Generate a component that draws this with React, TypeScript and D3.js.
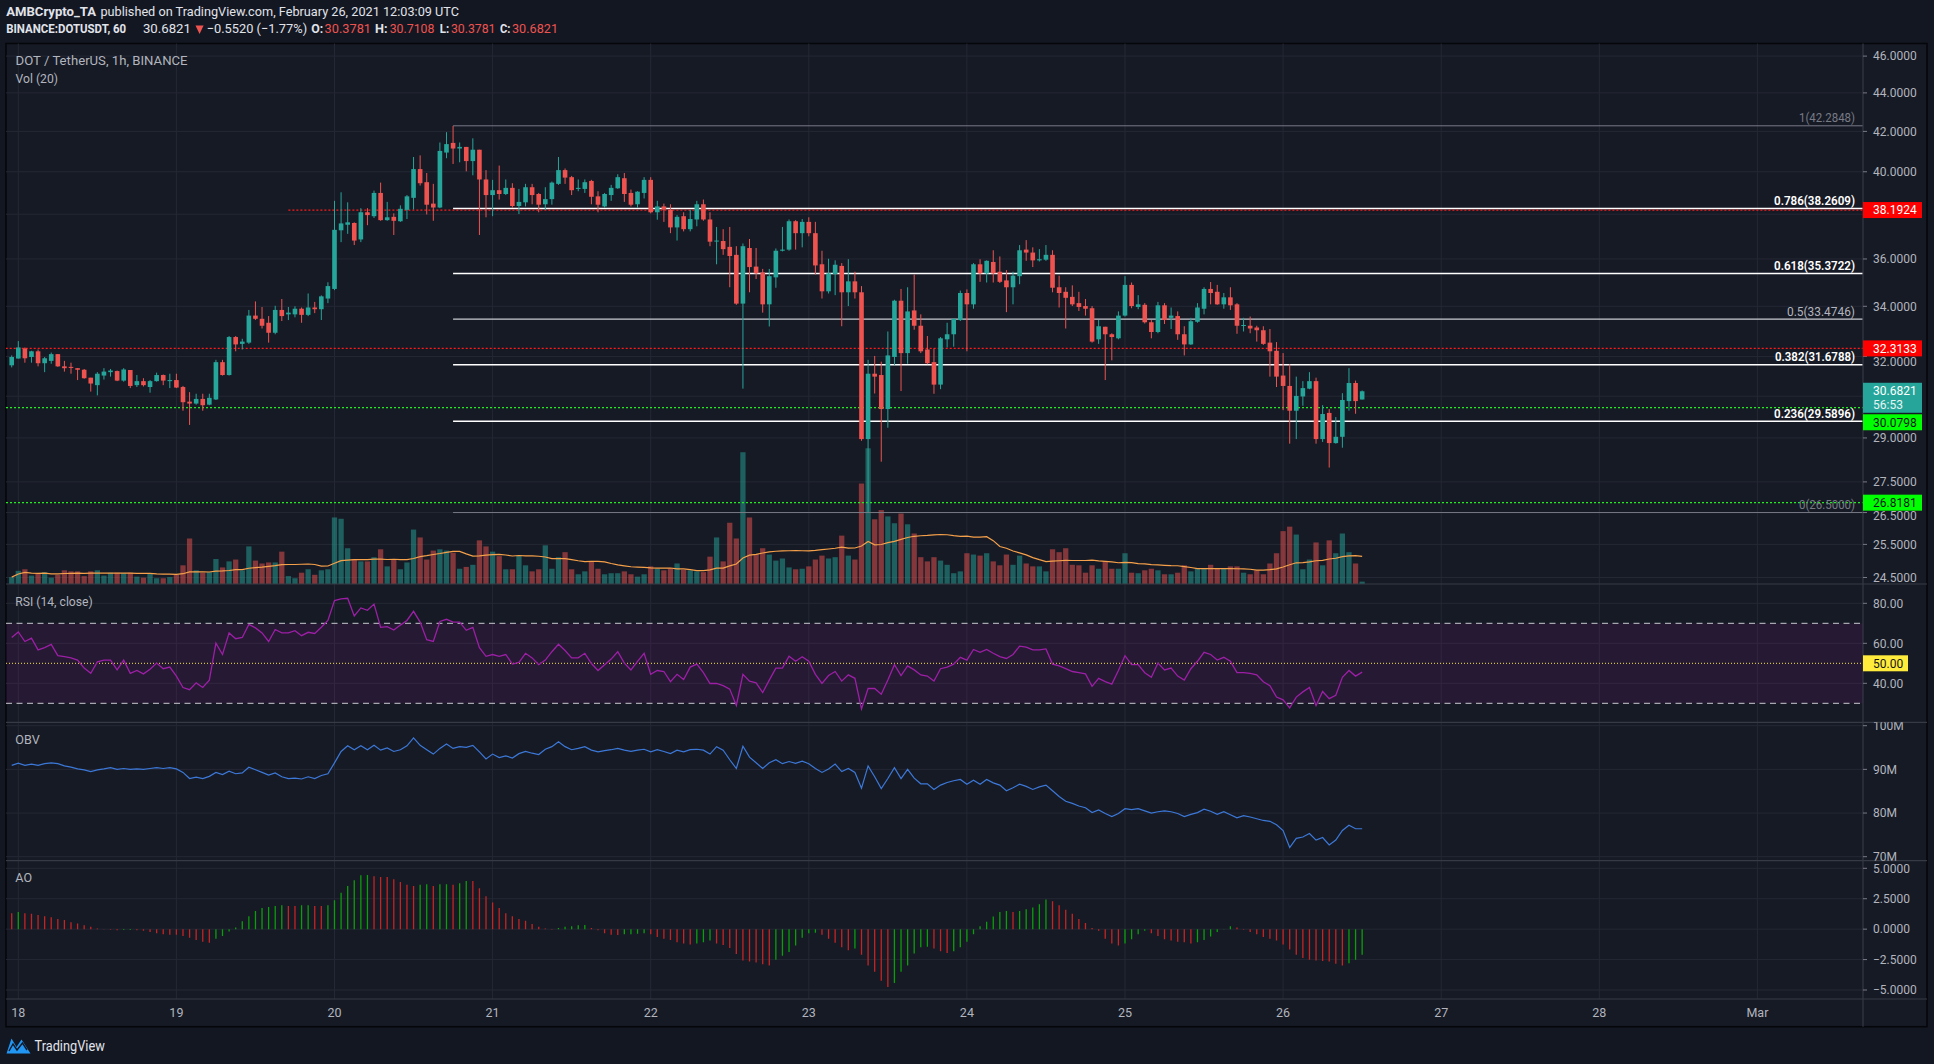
import React from "react";
import * as d3 from "d3";

// ---------- DATA (hourly bars, BINANCE:DOTUSDT, from Feb 17 23:00 UTC) ----------
const firstBarUtc = Date.UTC(2021, 1, 17, 23);

const opens = [
  31.66,31.92,32.31,31.98,32.20,31.74,31.83,32.09,31.62,31.60,
  31.55,31.49,31.19,30.91,31.27,31.40,31.44,31.08,31.48,30.91,
  31.06,30.84,31.06,31.29,31.06,31.10,30.84,30.30,30.23,30.40,
  30.19,30.38,31.78,31.29,32.76,32.49,32.54,33.62,33.49,33.33,
  32.93,33.85,33.67,33.67,33.90,33.65,33.95,33.88,34.32,34.72,
  37.27,37.52,37.60,36.86,38.09,37.91,38.99,37.73,37.88,37.68,
  38.20,38.76,40.13,39.50,38.49,38.31,40.94,41.42,41.14,41.22,
  40.52,41.08,39.63,38.89,39.12,38.94,39.23,38.38,38.55,39.26,
  38.94,38.46,38.70,39.42,40.08,39.74,39.18,39.18,39.56,38.83,
  38.36,38.89,39.21,39.69,38.99,38.46,38.99,39.61,38.09,38.36,
  38.20,37.40,37.91,37.32,37.76,38.46,37.76,36.79,36.79,36.53,
  36.18,34.11,36.48,35.67,35.42,34.08,35.21,36.36,36.41,37.68,
  37.14,37.65,37.14,35.77,34.62,35.35,35.70,34.58,35.04,34.58,
  28.96,31.34,31.29,30.03,31.98,34.23,32.13,33.83,33.21,32.27,
  31.78,30.93,32.67,32.87,33.44,34.55,34.08,35.77,35.38,35.87,
  35.45,35.08,34.79,35.26,36.41,36.28,35.94,35.97,36.18,34.79,
  34.60,34.39,34.13,34.01,33.92,32.67,33.17,32.87,32.71,33.62,
  34.89,33.97,34.06,33.35,32.96,34.04,33.53,33.60,32.87,32.47,
  33.37,33.90,34.72,34.60,34.08,34.37,34.08,33.21,33.21,33.14,
  33.03,32.54,32.22,31.27,30.88,29.97,30.49,30.78,31.06,28.96,
  29.89,28.82,29.04,30.32,30.99,30.3781,
];
const highs = [
  32.04,32.60,32.35,32.22,32.27,31.98,32.15,32.09,31.83,31.76,
  31.55,31.52,31.19,31.40,31.55,31.52,31.46,31.55,31.48,31.29,
  31.17,31.10,31.38,31.31,31.34,31.34,30.88,30.65,30.59,30.59,
  30.59,31.87,31.87,32.80,32.80,32.69,33.85,34.20,33.97,33.60,
  34.02,34.30,33.97,34.00,33.95,34.53,34.18,34.45,35.00,38.62,
  39.02,38.55,37.63,38.28,38.28,39.10,39.48,38.57,38.04,38.41,
  38.89,40.72,40.80,39.94,39.42,41.44,41.96,42.28,41.44,41.22,
  41.65,41.08,40.08,39.61,40.30,39.63,39.45,39.18,39.42,39.42,
  38.99,39.26,39.53,40.72,40.16,39.80,39.63,39.63,39.61,39.07,
  38.99,39.37,39.88,39.94,39.15,39.07,39.74,39.74,38.62,38.49,
  38.46,37.96,38.09,38.20,38.62,38.68,38.09,37.42,37.32,37.42,
  36.56,36.68,36.88,36.48,35.57,35.57,36.46,37.42,37.76,37.73,
  37.78,37.86,37.65,36.36,36.01,35.94,35.82,35.99,35.45,34.84,
  31.87,32.02,31.80,32.98,34.27,34.72,34.79,35.33,33.67,32.80,
  32.31,32.76,33.33,33.49,34.65,34.70,35.82,35.99,35.94,36.38,
  36.11,35.52,35.45,36.61,36.83,36.51,36.43,36.61,36.38,35.28,
  34.79,34.87,34.60,34.30,34.01,33.44,33.17,32.91,33.79,35.26,
  34.99,34.46,34.13,33.44,34.18,34.13,33.95,33.79,33.19,33.53,
  34.13,34.79,35.01,34.89,34.55,34.79,34.13,33.53,33.58,33.21,
  33.19,33.08,32.56,32.13,31.70,31.23,31.06,31.40,31.19,30.17,
  30.03,29.74,30.61,31.55,31.08,30.7108,
];
const lows = [
  31.58,31.92,31.76,31.76,31.62,31.40,31.72,31.60,31.42,31.34,
  31.10,31.15,30.67,30.53,31.12,31.23,31.06,31.04,30.80,30.84,
  30.86,30.63,31.04,30.91,30.80,30.80,29.97,29.46,30.19,29.97,
  30.17,30.36,31.27,31.27,32.20,32.27,32.49,33.44,33.10,32.54,
  32.87,33.40,33.44,33.55,33.33,33.60,33.72,33.44,34.13,34.67,
  36.74,37.11,36.61,36.74,37.50,37.83,37.70,37.70,37.06,37.65,
  37.78,38.22,39.34,37.99,37.70,38.28,40.66,40.38,40.46,40.02,
  39.83,37.06,37.86,37.91,38.68,38.89,38.30,38.01,38.36,38.46,
  38.09,38.20,38.44,39.37,39.42,38.89,39.07,38.99,38.46,38.09,
  38.30,38.62,39.18,38.57,38.36,38.30,38.73,38.04,37.75,37.65,
  37.14,36.81,37.22,37.22,37.45,37.70,36.56,35.77,36.18,34.79,
  34.06,30.78,34.58,35.14,33.74,33.18,34.77,36.33,36.36,36.41,
  36.51,37.00,35.33,34.32,34.53,34.46,33.19,34.01,34.32,28.90,
  26.50,30.60,28.18,29.36,31.66,30.69,31.72,33.05,32.13,31.70,
  30.59,30.76,32.35,32.38,33.40,32.20,33.90,35.02,34.99,34.99,
  34.97,33.76,34.08,34.92,35.92,35.65,35.89,35.92,34.58,33.95,
  33.10,34.01,33.81,33.62,32.54,32.49,31.10,31.85,32.67,33.58,
  33.92,33.88,33.30,32.71,32.91,33.28,33.08,32.65,32.04,32.45,
  33.33,33.67,34.08,34.06,33.90,33.85,32.89,32.98,32.91,32.58,
  32.45,31.23,30.84,29.99,28.80,28.96,30.15,30.76,28.80,28.86,
  27.98,28.80,28.66,29.97,29.86,30.3781,
];
const closes = [
  31.98,32.35,31.93,32.20,31.74,31.93,32.09,31.62,31.55,31.56,
  31.49,31.17,30.97,31.34,31.42,31.46,31.08,31.50,30.88,31.06,
  30.91,31.06,31.29,31.08,31.10,30.82,30.28,30.23,30.40,30.17,
  30.44,31.78,31.29,32.76,32.47,32.58,33.62,33.49,33.21,32.93,
  33.85,33.60,33.74,33.90,33.65,33.95,33.88,34.41,34.84,37.29,
  37.58,37.63,36.81,38.09,37.96,38.99,37.73,37.86,37.70,38.25,
  38.83,40.13,39.45,38.44,38.31,41.02,41.36,41.14,41.22,40.52,
  41.08,39.63,38.89,39.12,38.94,39.23,38.38,38.57,39.26,38.89,
  38.44,38.70,39.48,40.08,39.72,39.12,39.23,39.50,38.81,38.44,
  38.94,39.23,39.74,38.94,38.44,39.05,39.61,38.09,38.36,38.22,
  37.40,37.88,37.32,37.78,38.46,37.76,36.76,36.81,36.43,36.13,
  34.11,36.56,35.65,35.38,34.08,35.26,36.36,36.41,37.68,37.14,
  37.65,37.14,35.72,34.62,35.38,35.75,34.58,35.04,34.58,28.96,
  31.34,31.23,30.03,32.04,34.23,32.13,33.79,33.21,32.20,31.74,
  30.93,32.71,32.87,33.49,34.55,34.08,35.77,35.38,35.92,35.38,
  35.02,34.79,35.28,36.38,36.28,35.94,35.99,36.18,34.77,34.55,
  34.35,34.08,33.97,33.90,32.58,33.19,32.87,32.76,33.62,34.89,
  34.01,34.08,33.35,32.96,34.04,33.44,33.62,32.87,32.47,33.39,
  33.95,34.72,34.55,34.08,34.37,34.04,33.21,33.24,33.10,33.03,
  32.49,32.20,31.23,30.88,29.97,30.51,30.80,31.06,28.96,29.85,
  28.82,29.04,30.36,30.99,30.32,30.6821,
];
// volume, millions of DOT
const volumes = [
  0.26,0.50,0.56,0.32,0.39,0.45,0.24,0.35,0.52,0.48,
  0.48,0.30,0.48,0.52,0.32,0.43,0.43,0.41,0.43,0.28,
  0.24,0.39,0.22,0.22,0.26,0.35,0.71,1.73,0.52,0.43,
  0.45,0.95,0.63,0.86,0.93,0.52,1.43,0.89,0.78,0.82,
  0.82,1.23,0.30,0.22,0.43,0.56,0.35,0.52,0.56,2.53,
  2.48,1.36,0.95,0.86,0.86,1.02,1.32,0.67,0.95,0.56,
  0.82,2.07,1.77,0.93,1.27,1.32,1.27,1.19,0.58,0.65,
  0.73,1.66,1.43,1.23,1.06,0.56,0.56,1.08,0.71,0.48,
  0.56,1.47,0.58,1.02,1.21,0.56,0.37,0.48,0.84,0.58,
  0.37,0.41,0.41,0.48,0.37,0.28,0.37,0.67,0.58,0.52,
  0.60,0.78,0.54,0.52,0.48,0.45,1.04,1.77,0.86,2.33,
  1.73,5.01,2.53,1.14,1.36,1.12,0.89,0.97,0.63,0.56,
  0.58,0.67,0.93,1.08,0.97,1.02,1.84,1.08,0.93,3.82,
  5.16,2.46,2.81,2.57,2.31,2.68,2.27,1.92,1.02,0.86,
  1.02,0.89,0.73,0.41,0.48,1.17,1.12,1.08,1.17,0.86,
  0.71,1.12,0.73,1.08,0.78,0.67,0.67,0.48,1.32,1.21,
  1.36,0.73,0.71,0.43,0.71,0.58,0.86,0.58,0.58,1.17,
  0.43,0.41,0.52,0.58,0.52,0.37,0.37,0.43,0.71,0.48,
  0.58,0.60,0.73,0.58,0.60,0.67,0.67,0.43,0.37,0.52,
  0.37,0.78,1.17,2.01,2.18,1.88,0.56,0.93,1.58,0.71,
  1.66,1.17,1.92,1.21,0.78,0.09,
];
const rsiValues = [
  62.9,65.7,60.9,62.6,56.7,57.8,59.5,53.8,53.3,52.7,51.6,47.6,45.0,50.7,51.6,51.6,46.7,51.6,45.0,46.4,
  44.7,47.0,50.1,47.3,48.1,43.6,37.9,36.8,40.2,37.9,41.6,60.1,54.4,65.2,62.3,
  62.9,69.4,67.7,65.2,60.9,66.9,65.2,65.2,66.3,63.8,65.5,64.9,68.0,71.4,81.4,82.2,82.5,73.7,77.7,76.5,
  79.6,68.0,68.3,66.6,69.1,71.4,76.0,70.6,61.8,60.9,70.9,72.0,70.6,70.6,
  66.5,68.0,57.8,53.5,54.4,53.5,54.4,49.6,50.4,55.0,52.7,49.3,51.6,55.8,59.5,56.4,52.7,52.7,55.0,49.9,
  46.4,49.3,52.1,55.8,50.1,46.7,51.0,55.0,44.5,46.4,45.9,40.8,44.5,41.9,48.1,
  49.6,45.3,39.9,39.9,38.8,37.1,28.9,44.5,41.1,40.2,35.4,41.6,47.6,47.6,53.5,51.0,53.3,51.0,44.5,39.9,
  43.9,45.9,41.1,44.2,42.5,27.2,37.4,37.4,34.5,41.6,49.3,43.9,48.7,46.7,44.2,
  43.6,41.1,47.3,48.1,49.6,53.0,51.6,56.9,55.5,56.9,55.0,53.3,52.4,54.4,58.6,58.1,56.7,56.7,57.2,49.6,
  48.7,47.3,45.9,45.3,44.7,38.5,42.5,40.8,39.6,46.4,53.8,49.3,49.3,45.3,43.0,
  50.1,46.7,47.6,43.6,41.6,47.3,51.0,55.5,54.4,51.6,53.0,51.0,45.3,45.3,45.0,44.2,40.8,38.8,33.1,31.7,
  27.7,33.1,35.7,37.9,28.9,35.9,32.3,34.0,43.0,46.4,43.6,45.6,
];
// on-balance volume, millions
const obvValues = [
  90.9,91.4,90.9,91.2,90.9,91.3,91.5,91.3,90.8,90.5,90.1,89.9,89.5,89.9,90.1,90.4,90.0,90.2,90.0,90.1,
  90.0,90.2,90.4,90.2,90.4,90.1,89.3,87.9,88.2,87.9,88.4,89.3,88.8,89.6,
  89.0,89.2,90.5,89.9,89.3,88.7,89.2,88.3,87.9,88.0,87.8,88.3,87.9,88.6,89.0,91.5,94.1,95.4,94.5,95.4,
  94.5,95.5,94.4,94.9,94.1,94.5,95.4,97.2,95.5,94.5,93.5,94.8,95.8,94.8,95.2,
  95.05,95.5,94.0,92.4,93.5,92.7,93.1,92.6,93.6,94.1,93.7,93.4,94.6,95.2,96.3,95.2,94.5,94.8,95.2,94.4,
  94.0,94.3,94.5,94.8,94.4,94.1,94.4,94.6,94.0,94.5,94.1,93.6,94.4,94.0,94.5,
  94.6,94.4,93.5,95.2,94.4,92.2,90.2,95.3,92.8,91.5,90.2,91.5,92.2,91.3,91.8,91.4,91.9,91.3,90.2,89.3,
  90.1,91.2,89.5,90.2,89.3,85.7,90.8,88.3,85.6,87.9,90.4,87.9,90.0,88.0,86.7,
  86.7,85.4,86.4,87.0,87.4,87.7,86.6,87.5,86.6,87.7,86.9,86.4,85.1,85.8,86.6,86.1,85.4,86.0,86.4,85.1,
  83.8,82.7,82.2,81.6,81.2,80.1,80.7,79.9,79.2,79.9,81.0,80.8,81.0,80.5,80.0,
  80.3,80.5,80.3,79.9,79.2,79.7,80.1,80.9,80.4,79.7,80.3,79.6,78.9,79.4,79.1,78.7,78.3,78.1,77.3,76.0,
  72.1,74.2,74.5,75.3,73.8,74.4,72.7,73.8,76.0,77.2,76.4,76.4,
];
const aoValues = [
  1.31,1.40,1.31,1.26,1.17,1.07,0.98,0.84,0.75,0.56,0.47,0.33,0.19,0.05,-0.02,-0.05,-0.09,-0.08,-0.07,-0.10,
  -0.14,-0.23,-0.33,-0.42,-0.45,-0.47,-0.56,-0.70,-0.89,-1.03,-1.12,-0.79,-0.56,-0.19,
  0.14,0.65,1.07,1.49,1.73,1.82,1.91,1.96,1.91,1.90,1.96,1.97,1.91,1.90,1.96,2.38,2.99,3.54,4.01,4.43,
  4.45,4.34,4.29,4.28,4.10,3.87,3.64,3.54,3.64,3.68,3.54,3.68,3.69,3.64,3.78,
  3.96,3.95,3.36,2.71,2.19,1.73,1.31,1.07,0.84,0.70,0.42,0.19,0.05,-0.05,0.09,0.19,0.23,0.33,0.34,0.09,
  -0.09,-0.33,-0.47,-0.48,-0.42,-0.41,-0.37,-0.33,-0.42,-0.65,-0.79,-0.89,-1.07,-1.17,-1.26,
  -1.17,-1.07,-0.93,-1.17,-1.31,-1.54,-2.05,-2.57,-2.66,-2.75,-2.89,-2.99,-2.52,-2.19,-1.87,-1.35,-0.70,-0.33,-0.30,-0.47,
  -0.79,-1.12,-1.49,-1.73,-1.59,-2.10,-2.99,-3.50,-4.24,-4.76,-4.43,-3.50,-2.99,-2.01,-1.49,
  -1.45,-1.59,-1.82,-1.96,-1.82,-1.49,-1.03,-0.42,0.23,0.61,1.03,1.40,1.49,1.40,1.49,1.63,1.77,2.05,2.43,2.29,
  1.96,1.59,1.26,0.84,0.51,0.09,-0.14,-0.79,-1.17,-1.35,-1.17,-0.84,-0.42,-0.14,-0.33,
  -0.56,-0.84,-0.93,-1.03,-1.07,-1.17,-1.07,-0.89,-0.61,-0.23,0.02,0.23,0.14,-0.05,-0.23,-0.42,-0.65,-0.79,-0.93,-1.26,
  -1.68,-2.10,-2.38,-2.52,-2.57,-2.61,-2.66,-2.85,-2.99,-2.80,-2.52,-2.10,
];

const priceTicks = [46, 44, 42, 40, 38, 36, 34, 32, 30.5, 29, 27.5, 26.5, 25.5, 24.5];
const rsiTicks = [80, 60, 40];
const obvTicks = [100, 90, 80, 70];
const aoTicks = [5, 2.5, 0, -2.5, -5];
const dayLabels = ["18", "19", "20", "21", "22", "23", "24", "25", "26", "27", "28", "Mar"];

const fibRatios = ["1", "0.786", "0.618", "0.5", "0.382", "0.236", "0"];
const fibPrices = [42.2848, 38.2609, 35.3722, 33.4746, 31.6788, 29.5896, 26.5];
const fibAnchorBar = 67;

const resistancePrices = [38.1924, 32.3133];
const resistanceStartBars = [42, 0];
const supportPrices = [30.0798, 26.8181];
const lastPrice = 30.6821;
const countdown = "56:53";
const rsiMid = 50;

// ---------- COLOURS ----------
const UP = "#26a69a";
const DOWN = "#ef5350";
const BG = "#131722";
const PANE = "#161a25";
const GRID = "#242834";
const SEP = "#363a45";
const AXIS_TXT = "#b2b5be";
const FONT = "Roboto, 'Noto Sans', sans-serif";

export default function App() {
  const W = 1934, H = 1064;
  const left = 6, right = 1863, frameRight = 1927;
  const top = 43.5, priceBottom = 584, rsiBottom = 722.3, obvBottom = 860.7, aoBottom = 999, frameBottom = 1026.7;

  const n = Math.min(opens.length, highs.length, lows.length, closes.length);
  const times = d3.range(n).map((i) => new Date(firstBarUtc + i * 3600 * 1000));

  const x = d3
    .scaleUtc()
    .domain([new Date(Date.UTC(2021, 1, 18)), new Date(Date.UTC(2021, 2, 1))])
    .range([18.3, 1757.4]);
  const dayTicks = dayLabels.map((_, k) => new Date(Date.UTC(2021, 1, 18 + k)));
  const step = x(times[1]) - x(times[0]);
  const bodyW = step * 0.7;
  const volW = step * 0.8;

  const yP = d3.scaleLog().domain([24.5, 46]).range([577.5, 56.1]);
  const yV = d3.scaleLinear().domain([0, 5]).range([priceBottom, priceBottom - 131.5]);
  const yR = d3.scaleLinear().domain([0, 80]).range([763.3, 603.3]);
  const yO = d3.scaleLinear().domain([70, 100]).range([856.7, 725.7]);
  const yA = d3.scaleLinear().domain([-5, 5]).range([990, 868.3]);

  const volMA = volumes.map((_, i) => d3.mean(volumes.slice(Math.max(0, i - 19), i + 1)) as number);

  const lineOf = (vals: number[], y: (v: number) => number) =>
    d3
      .line<number>()
      .x((_, i) => x(times[i]))
      .y((d) => y(d))(vals.slice(0, n)) || "";

  const fmtSigned = (v: number, d: number) => (v < 0 ? "\u2212" + Math.abs(v).toFixed(d) : v.toFixed(d));

  const fibStyle = (r: string) =>
    r === "1" || r === "0"
      ? { line: "#787b86", text: "#787b86", w: 1 }
      : r === "0.5"
      ? { line: "#c9cbd1", text: "#b2b5be", w: 1.3 }
      : { line: "#ffffff", text: "#ffffff", w: 1.6 };
  const fibLen: Record<string, number> = { "1": 56, "0.786": 81, "0.618": 81, "0.5": 68, "0.382": 80, "0.236": 81, "0": 56 };

  const boxW = 59;
  const boxH = 16;
  const tealTop = yP(lastPrice) - 8.5;
  const tealH = 30;
  const supportLabelY = [Math.max(yP(supportPrices[0]), tealTop + tealH + 9.5), yP(supportPrices[1])];

  // spans on the price axis covered by value boxes
  const boxSpans: [number, number][] = [
    ...resistancePrices.map((p) => [yP(p) - boxH / 2, yP(p) + boxH / 2] as [number, number]),
    [tealTop, tealTop + tealH],
    ...supportLabelY.map((y) => [y - boxH / 2, y + boxH / 2] as [number, number]),
  ];
  // labels whose centre is under a box are hidden (as TradingView does); labels just below a box are nudged clear of it
  const priceLabelPos = priceTicks
    .filter((t) => !boxSpans.some(([a, b]) => yP(t) >= a && yP(t) <= b))
    .map((t) => {
      let y = yP(t);
      boxSpans.forEach(([a, b]) => {
        if (y > b && y - 5 < b) y = b + 5;
        if (y < a && y + 5 > a) y = a - 5;
      });
      return { t, tickY: yP(t), y };
    });

  const axisLabel = (key: string, y: number, txt: string, labelY?: number) => (
    <g key={key}>
      <line x1={right} x2={right + 4} y1={y} y2={y} stroke="#787b86" />
      <text x={1873} y={(labelY ?? y) + 4.3} fontSize={12} fill={AXIS_TXT}>
        {txt}
      </text>
    </g>
  );

  return (
    <svg
      width={W}
      height={H}
      viewBox={`0 0 ${W} ${H}`}
      style={{ position: "absolute", left: 0, top: 0, display: "block" }}
      fontFamily={FONT}
    >
      <defs>
        <clipPath id="cPrice"><rect x={left} y={top} width={right - left} height={priceBottom - top} /></clipPath>
        <clipPath id="cRsi"><rect x={left} y={priceBottom} width={right - left} height={rsiBottom - priceBottom} /></clipPath>
        <clipPath id="cObv"><rect x={left} y={rsiBottom} width={right - left} height={obvBottom - rsiBottom} /></clipPath>
        <clipPath id="cAo"><rect x={left} y={obvBottom} width={right - left} height={aoBottom - obvBottom} /></clipPath>
        <clipPath id="aPrice"><rect x={right} y={top} width={frameRight - right} height={priceBottom - top} /></clipPath>
        <clipPath id="aRsi"><rect x={right} y={priceBottom} width={frameRight - right} height={rsiBottom - priceBottom} /></clipPath>
        <clipPath id="aObv"><rect x={right} y={rsiBottom} width={frameRight - right} height={obvBottom - rsiBottom} /></clipPath>
        <clipPath id="aAo"><rect x={right} y={obvBottom} width={frameRight - right} height={aoBottom - obvBottom} /></clipPath>
      </defs>

      <rect x={0} y={0} width={W} height={H} fill={BG} />

      {/* header */}
      <g fill="#e1e3ea" fontSize={13.5}>
        <text x={6.2} y={16.3} fontWeight={700} textLength={89.8} lengthAdjust="spacingAndGlyphs">AMBCrypto_TA</text>
        <text x={100.4} y={16.3} textLength={358.6} lengthAdjust="spacingAndGlyphs">published on TradingView.com, February 26, 2021 12:03:09 UTC</text>
        <text x={6.2} y={33.4} fontWeight={700} textLength={120} lengthAdjust="spacingAndGlyphs">BINANCE:DOTUSDT, 60</text>
        <text x={142.9} y={33.4} textLength={48} lengthAdjust="spacingAndGlyphs">{lastPrice.toFixed(4)}</text>
        <path d="M195.5,25.5 L203.6,25.5 L199.55,34 Z" fill={DOWN} />
        <text x={206.7} y={33.4} textLength={100.4} lengthAdjust="spacingAndGlyphs">{"\u22120.5520 (\u22121.77%)"}</text>
        <text x={311.2} y={33.4} fontWeight={700} textLength={12} lengthAdjust="spacingAndGlyphs">O:</text>
        <text x={324.6} y={33.4} fill={DOWN} textLength={46.4} lengthAdjust="spacingAndGlyphs">{opens[n - 1].toFixed(4)}</text>
        <text x={375} y={33.4} fontWeight={700} textLength={12.5} lengthAdjust="spacingAndGlyphs">H:</text>
        <text x={389.7} y={33.4} fill={DOWN} textLength={44.7} lengthAdjust="spacingAndGlyphs">{highs[n - 1].toFixed(4)}</text>
        <text x={439.7} y={33.4} fontWeight={700} textLength={9.5} lengthAdjust="spacingAndGlyphs">L:</text>
        <text x={450.9} y={33.4} fill={DOWN} textLength={44.6} lengthAdjust="spacingAndGlyphs">{lows[n - 1].toFixed(4)}</text>
        <text x={500} y={33.4} fontWeight={700} textLength={10.5} lengthAdjust="spacingAndGlyphs">C:</text>
        <text x={512} y={33.4} fill={DOWN} textLength={46} lengthAdjust="spacingAndGlyphs">{closes[n - 1].toFixed(4)}</text>
      </g>

      {/* frame */}
      <rect x={left} y={top} width={frameRight - left} height={frameBottom - top} fill={PANE} stroke="#05060a" strokeWidth={1.5} />

      {/* vertical grid */}
      {dayTicks.map((d, k) => (
        <line key={"vg" + k} x1={x(d)} x2={x(d)} y1={top} y2={aoBottom} stroke={GRID} />
      ))}

      {/* horizontal grid */}
      <g clipPath="url(#cPrice)">
        {priceTicks.map((t) => (
          <line key={"pg" + t} x1={left} x2={right} y1={yP(t)} y2={yP(t)} stroke={GRID} />
        ))}
      </g>
      {rsiTicks.map((t) => (
        <line key={"rg" + t} x1={left} x2={right} y1={yR(t)} y2={yR(t)} stroke={GRID} />
      ))}
      <g clipPath="url(#cObv)">
        {obvTicks.map((t) => (
          <line key={"og" + t} x1={left} x2={right} y1={yO(t)} y2={yO(t)} stroke={GRID} />
        ))}
      </g>
      {aoTicks.map((t) => (
        <line key={"ag" + t} x1={left} x2={right} y1={yA(t)} y2={yA(t)} stroke={GRID} />
      ))}

      {/* ---------- price pane ---------- */}
      <g clipPath="url(#cPrice)">
        {/* volume */}
        {times.map((t, i) => (
          <rect
            key={"v" + i}
            x={x(t) - volW / 2}
            y={yV(volumes[i])}
            width={volW}
            height={priceBottom - yV(volumes[i])}
            fill={closes[i] >= opens[i] ? UP : DOWN}
            fillOpacity={0.5}
          />
        ))}
        <path d={lineOf(volMA, yV)} fill="none" stroke="#f5a04a" strokeWidth={1.2} />

        {/* fib retracement */}
        {fibRatios.map((r, k) => {
          const s = fibStyle(r);
          return (
            <line key={"fl" + r} x1={x(times[fibAnchorBar])} x2={right} y1={yP(fibPrices[k])} y2={yP(fibPrices[k])} stroke={s.line} strokeWidth={s.w} />
          );
        })}

        {/* horizontal levels */}
        {resistancePrices.map((p, k) => (
          <line key={"rl" + k} x1={x(times[resistanceStartBars[k]]) - (resistanceStartBars[k] === 0 ? 10 : 0)} x2={right} y1={yP(p)} y2={yP(p)} stroke="#ff1a1a" strokeWidth={1.2} strokeDasharray="2,2" />
        ))}
        {supportPrices.map((p, k) => (
          <line key={"sl" + k} x1={left} x2={right} y1={yP(p)} y2={yP(p)} stroke="#22ee22" strokeWidth={1.2} strokeDasharray="2,2" />
        ))}

        {/* candles */}
        {times.map((t, i) => {
          const o = opens[i], c = closes[i];
          const col = c >= o ? UP : DOWN;
          const cx = x(t);
          const yt = yP(Math.max(o, c));
          const yb = yP(Math.min(o, c));
          return (
            <g key={"c" + i}>
              <line x1={cx} x2={cx} y1={yP(highs[i])} y2={yP(lows[i])} stroke={col} strokeWidth={1} />
              <rect x={cx - bodyW / 2} y={yt} width={bodyW} height={Math.max(1, yb - yt)} fill={col} />
            </g>
          );
        })}

        {/* fib labels */}
        {fibRatios.map((r, k) => {
          const s = fibStyle(r);
          return (
            <text key={"ft" + r} x={1855} y={yP(fibPrices[k]) - 3.5} fontSize={12} fill={s.text} textAnchor="end" fontWeight={s.text === "#ffffff" ? 600 : 400} textLength={fibLen[r]} lengthAdjust="spacingAndGlyphs">
              {`${r}(${fibPrices[k].toFixed(4)})`}
            </text>
          );
        })}
      </g>

      <text x={15.6} y={64.5} fontSize={13} fill={AXIS_TXT} textLength={172} lengthAdjust="spacingAndGlyphs">DOT / TetherUS, 1h, BINANCE</text>
      <text x={15.6} y={83.3} fontSize={13} fill={AXIS_TXT} textLength={42.4} lengthAdjust="spacingAndGlyphs">Vol (20)</text>

      {/* ---------- RSI pane ---------- */}
      <g clipPath="url(#cRsi)">
        <rect x={left} y={yR(70)} width={right - left} height={yR(30) - yR(70)} fill="rgb(153,21,153)" fillOpacity={0.12} />
        <line x1={left} x2={right} y1={yR(70)} y2={yR(70)} stroke="#c8cad0" strokeDasharray="6,4.5" />
        <line x1={left} x2={right} y1={yR(30)} y2={yR(30)} stroke="#c8cad0" strokeDasharray="6,4.5" />
        <line x1={left} x2={right} y1={yR(rsiMid)} y2={yR(rsiMid)} stroke="#ffeb3b" strokeDasharray="1,2" />
        <path d={lineOf(rsiValues, yR)} fill="none" stroke="#9c1fa6" strokeWidth={1.3} />
      </g>
      <text x={15.3} y={605.5} fontSize={13} fill={AXIS_TXT} textLength={77.4} lengthAdjust="spacingAndGlyphs">RSI (14, close)</text>

      {/* ---------- OBV pane ---------- */}
      <g clipPath="url(#cObv)">
        <path d={lineOf(obvValues, yO)} fill="none" stroke="#3c78d8" strokeWidth={1.2} />
      </g>
      <text x={15.3} y={744} fontSize={13} fill={AXIS_TXT} textLength={24.4} lengthAdjust="spacingAndGlyphs">OBV</text>

      {/* ---------- AO pane ---------- */}
      <g clipPath="url(#cAo)">
        {times.map((t, i) => {
          const v = aoValues[i];
          const rising = i > 0 && v > aoValues[i - 1];
          return (
            <line key={"ao" + i} x1={x(t)} x2={x(t)} y1={yA(0)} y2={yA(v)} stroke={rising ? "#0b9e0b" : "#c42424"} strokeWidth={1.3} />
          );
        })}
      </g>
      <text x={15.3} y={881.7} fontSize={13} fill={AXIS_TXT} textLength={16.7} lengthAdjust="spacingAndGlyphs">AO</text>

      {/* separators */}
      {[priceBottom, rsiBottom, obvBottom, aoBottom].map((y, k) => (
        <line key={"sep" + k} x1={left} x2={frameRight} y1={y} y2={y} stroke={SEP} strokeWidth={1.2} />
      ))}
      <line x1={right} x2={right} y1={top} y2={frameBottom} stroke={SEP} strokeWidth={1.2} />

      {/* right axes */}
      <g clipPath="url(#aPrice)">{priceLabelPos.map((p) => axisLabel("pa" + p.t, p.tickY, p.t.toFixed(4), p.y))}</g>
      <g clipPath="url(#aRsi)">{rsiTicks.map((t) => axisLabel("ra" + t, yR(t), t.toFixed(2)))}</g>
      <g clipPath="url(#aObv)">{obvTicks.map((t) => axisLabel("oa" + t, yO(t), `${t}M`))}</g>
      <g clipPath="url(#aAo)">{aoTicks.map((t) => axisLabel("aa" + t, yA(t), fmtSigned(t, 4)))}</g>

      {/* axis value boxes */}
      {resistancePrices.map((p, k) => (
        <g key={"rb" + k}>
          <rect x={right} y={yP(p) - boxH / 2} width={boxW} height={boxH} fill="#ff0000" />
          <text x={1873} y={yP(p) + 4.3} fontSize={12} fill="#ffffff">{p.toFixed(4)}</text>
        </g>
      ))}
      <rect x={right} y={tealTop} width={boxW} height={tealH} fill={UP} />
      <text x={1873} y={tealTop + 12.7} fontSize={12} fill="#ffffff">{lastPrice.toFixed(4)}</text>
      <text x={1873} y={tealTop + 26.5} fontSize={12} fill="#e8f5f3">{countdown}</text>
      {supportPrices.map((p, k) => (
        <g key={"sb" + k}>
          <rect x={right} y={supportLabelY[k] - boxH / 2} width={boxW} height={boxH} fill="#00ff00" />
          <text x={1873} y={supportLabelY[k] + 4.3} fontSize={12} fill="#131722">{p.toFixed(4)}</text>
        </g>
      ))}
      <rect x={right} y={yR(rsiMid) - 8} width={45} height={16} fill="#ffeb3b" />
      <text x={1873} y={yR(rsiMid) + 4.3} fontSize={12} fill="#131722">{rsiMid.toFixed(2)}</text>

      {/* time axis */}
      {dayTicks.map((d, k) => (
        <text key={"tl" + k} x={x(d)} y={1016.8} fontSize={12.5} fill={AXIS_TXT} textAnchor="middle">
          {dayLabels[k]}
        </text>
      ))}

      {/* TradingView logo */}
      <g>
        <path d="M6.5,1053.5 L11.5,1038.5 L16.5,1047 L21.5,1039.5 L30.5,1053.5 Z" fill="#2196f3" />
        <path d="M9,1051 L13,1044 L17,1050 L22.5,1043 L27,1050" fill="none" stroke="#131722" strokeWidth={1.4} />
        <text x={34.5} y={1051} fontSize={14} fill="#e1e3ea" textLength={70.3} lengthAdjust="spacingAndGlyphs">TradingView</text>
      </g>
    </svg>
  );
}
